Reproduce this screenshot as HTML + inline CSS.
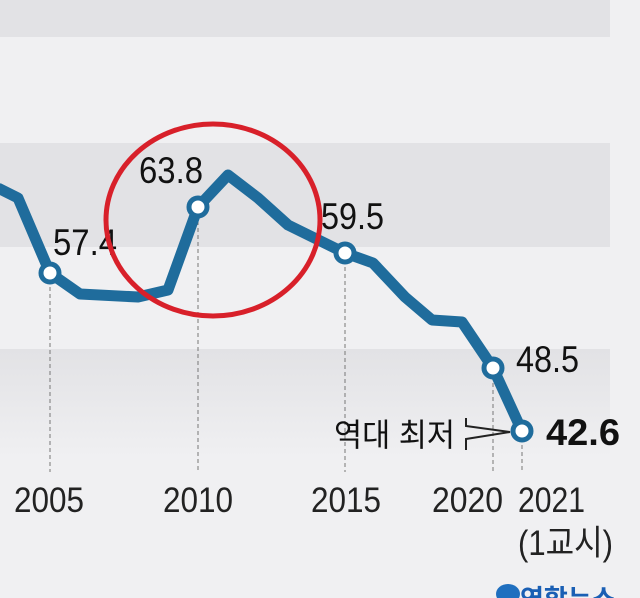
<!DOCTYPE html>
<html><head><meta charset="utf-8"><style>
body{margin:0;background:#f0f0f2;}
svg{display:block}
text{font-family:"Liberation Sans","Noto Sans CJK KR",sans-serif;}
</style></head><body>
<svg width="640" height="598" viewBox="0 0 640 598">
<defs><linearGradient id="g" x1="0" y1="0" x2="0" y2="1"><stop offset="0" stop-color="#e2e2e5"/><stop offset="1" stop-color="#f0f0f2"/></linearGradient></defs>
<rect width="640" height="598" fill="#f0f0f2"/>
<rect x="0" y="0" width="610" height="37" fill="#e2e2e5"/>
<rect x="0" y="143" width="610" height="104" fill="#e2e2e5"/>
<rect x="0" y="349" width="610" height="110" fill="url(#g)"/>
<g stroke="#777" stroke-width="1" stroke-dasharray="4,3">
<line x1="50" y1="280" x2="50" y2="472"/>
<line x1="198" y1="214" x2="198" y2="472"/>
<line x1="345" y1="260" x2="345" y2="472"/>
<line x1="493" y1="376" x2="493" y2="472"/>
<line x1="522" y1="438" x2="522" y2="472"/>
</g>
<polyline fill="none" stroke="#1f6c9c" stroke-width="11" stroke-linejoin="round" points="-2,188 18,198 50,273 80,294 138,297 168,290 198,207 228,175 258,198 288,225 345,253 373,263 405,297 432,320 462,322 493,368 522,431"/>
<g fill="#fff" stroke="#1f6c9c" stroke-width="5">
<circle cx="50" cy="273" r="9"/><circle cx="198" cy="207" r="9"/><circle cx="345" cy="253" r="9"/><circle cx="493" cy="368" r="9"/><circle cx="522" cy="431" r="9"/>
</g>
<g font-size="37" fill="#111">
<text x="53" y="255" textLength="64" lengthAdjust="spacingAndGlyphs">57.4</text>
<text x="139" y="183" textLength="64" lengthAdjust="spacingAndGlyphs">63.8</text>
<text x="321" y="229" textLength="63" lengthAdjust="spacingAndGlyphs">59.5</text>
<text x="516" y="372" textLength="63" lengthAdjust="spacingAndGlyphs">48.5</text>
<text x="546" y="445" font-weight="bold" textLength="74" lengthAdjust="spacingAndGlyphs">42.6</text>
<text x="334" y="446" font-size="32" textLength="121" lengthAdjust="spacingAndGlyphs">역대 최저</text>
</g>
<polyline points="466,418 466,426 510,432 466,439 466,450" fill="none" stroke="#222" stroke-width="2"/>
<g font-size="35" fill="#222">
<text x="14" y="512" textLength="70" lengthAdjust="spacingAndGlyphs">2005</text>
<text x="163" y="512" textLength="70" lengthAdjust="spacingAndGlyphs">2010</text>
<text x="311" y="512" textLength="70" lengthAdjust="spacingAndGlyphs">2015</text>
<text x="432" y="512" textLength="71" lengthAdjust="spacingAndGlyphs">2020</text>
<text x="518" y="512" textLength="67" lengthAdjust="spacingAndGlyphs">2021</text>
<text x="518" y="555" textLength="95" lengthAdjust="spacingAndGlyphs">(1교시)</text>
</g>
<ellipse cx="213" cy="220" rx="107" ry="96" fill="none" stroke="#d8202a" stroke-width="5"/>
<ellipse cx="508" cy="594" rx="12" ry="10" fill="#1f6fbf"/>
<text x="520" y="608" font-size="26" font-weight="bold" fill="#1a5fb4">연합뉴스</text>
</svg>
</body></html>
